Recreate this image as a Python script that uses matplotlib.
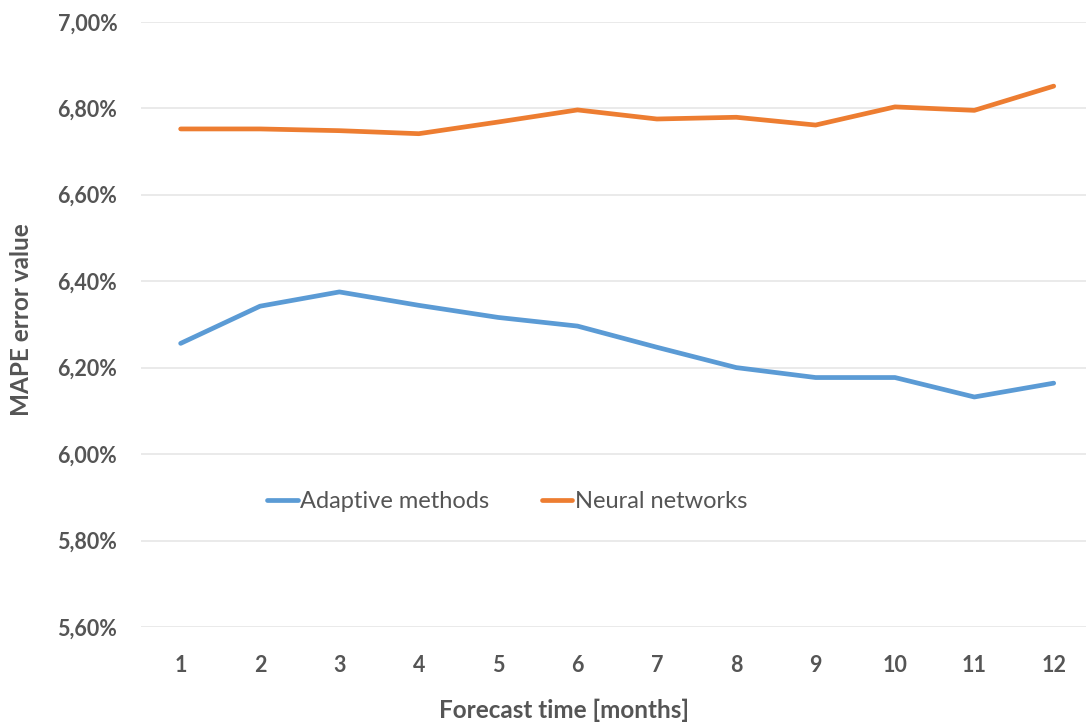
import numpy as np
import matplotlib
matplotlib.use('Agg')
import matplotlib.pyplot as plt
from matplotlib.ticker import FuncFormatter

months = np.arange(1, 13)
adaptive = [6.256, 6.342, 6.375, 6.344, 6.316, 6.296, 6.247, 6.200, 6.177, 6.177, 6.132, 6.164]
neural = [6.752, 6.752, 6.748, 6.741, 6.768, 6.796, 6.775, 6.779, 6.761, 6.803, 6.795, 6.851]
y_ticks = [5.6, 5.8, 6.0, 6.2, 6.4, 6.6, 6.8, 7.0]

plt.rcParams['font.family'] = ['Lato', 'DejaVu Sans']
grey = '#555555'

fig = plt.figure(figsize=(10.86, 7.24), dpi=100)
ax = fig.add_axes([0.1298, 0.134, 0.877, 0.836])

ax.plot(months, adaptive, color='#5B9BD5', lw=3.4, label='Adaptive methods', solid_capstyle='round')
ax.plot(months, neural, color='#ED7D31', lw=3.4, label='Neural networks', solid_capstyle='round')

ax.set_xlim(0.5, 12.5)
ax.set_ylim(5.6, 7.0)
ax.set_xticks(months)
ax.set_yticks(y_ticks)
ax.yaxis.set_major_formatter(FuncFormatter(lambda v, p: f'{v:.2f}%'.replace('.', ',')))
ax.grid(axis='y', color='#E6E6E6', lw=1.2)
ax.set_axisbelow(True)
for s in ax.spines.values():
    s.set_visible(False)
ax.tick_params(length=0, labelsize=15.5, labelcolor=grey)
ax.tick_params(axis='y', pad=17)
ax.tick_params(axis='x', pad=20)
for lab in ax.get_xticklabels() + ax.get_yticklabels():
    lab.set_fontweight('bold')

ax.set_xlabel('Forecast time [months]', fontsize=17.5, color=grey, fontweight='bold')
ax.xaxis.set_label_coords(0.444, -0.118)
ax.set_ylabel('MAPE error value', fontsize=17.5, color=grey, fontweight='bold')
ax.yaxis.set_label_coords(-0.113, 0.507)

leg = fig.legend(loc='center', bbox_to_anchor=(0.467, 0.307), ncol=2, frameon=False,
                 fontsize=17, handlelength=1.3, handletextpad=0.1, columnspacing=2.2)
for t in leg.get_texts():
    t.set_color(grey)

fig.savefig('out.png', dpi=100, facecolor='white')
